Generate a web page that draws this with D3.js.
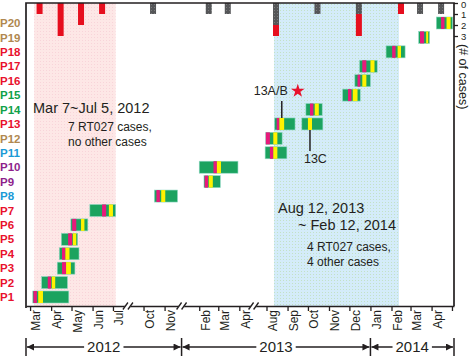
<!DOCTYPE html>
<html>
<head>
<meta charset="utf-8">
<script src="https://cdn.jsdelivr.net/npm/d3@7"></script>
<style>
  body { margin: 0; background: #fff; }
  svg { display: block; font-family: "Liberation Sans", Arial, Helvetica, sans-serif; }
</style>
</head>
<body>
<div id="chart"></div>
<script>
// Patients, bottom to top, and the strain group that colours each label
const patients = d3.range(1, 21).map(i => "P" + i);
const patientGroup = ["027", "027", "027", "027", "027", "027", "027", "B", "C", "C",
                      "B", "D", "027", "E", "E", "027", "027", "027", "D", "D"];

// Broken time axis: the stretches of time that are shown
const axisSegments = [
    ["2012-02-24", "2012-07-23"],
    ["2012-09-08", "2012-11-26"],
    ["2013-01-06", "2013-04-22"],
    ["2013-07-13", "2014-05-04"]
];
const tickMonths = ["2012-03-01", "2012-04-01", "2012-05-01", "2012-06-01", "2012-07-01",
                    "2012-10-01", "2012-11-01",
                    "2013-02-01", "2013-03-01", "2013-04-01",
                    "2013-08-01", "2013-09-01", "2013-10-01", "2013-11-01", "2013-12-01",
                    "2014-01-01", "2014-02-01", "2014-03-01", "2014-04-01", "2014-05-01"];
const unlabelledTicks = ["2014-05-01"];
const years = ["2012", "2013", "2014"];
const yearStarts = ["2013-01-01", "2014-01-01"];

// Shaded outbreak periods
const periodStart = ["2012-03-07", "2013-08-12"];
const periodEnd = ["2012-07-05", "2014-02-12"];

// Monthly case counts (hanging from the top)
const caseMonths = ["2012-03-01", "2012-04-01", "2012-05-01", "2012-06-01", "2012-10-01",
                    "2013-02-01", "2013-03-01", "2013-08-01", "2013-10-01", "2013-12-01",
                    "2014-02-01", "2014-03-01", "2014-04-01"];
const otherCases = [0, 0, 0, 0, 1, 1, 1, 2, 1, 1, 0, 1, 1];
const rt027Cases = [1, 3, 2, 1, 0, 0, 0, 1, 0, 2, 1, 0, 0];

// Stays: patient, from, to, magenta from, magenta to, yellow from, yellow to
const stays = [
    ["P1",  "2012-03-05", "2012-04-27", "2012-03-06", "2012-03-11", "2012-03-13", "2012-03-20"],
    ["P2",  "2012-03-18", "2012-04-25", "2012-03-27", "2012-04-01", "2012-04-02", "2012-04-07"],
    ["P3",  "2012-04-10", "2012-05-06", "2012-04-17", "2012-04-23", "2012-04-23", "2012-04-30"],
    ["P4",  "2012-04-13", "2012-05-12", "2012-04-17", "2012-04-22", "2012-04-22", "2012-04-28"],
    ["P5",  "2012-04-16", "2012-05-10", "2012-04-26", "2012-05-02", "2012-05-03", "2012-05-08"],
    ["P6",  "2012-04-30", "2012-05-25", "2012-05-02", "2012-05-08", "2012-05-15", "2012-05-20"],
    ["P7",  "2012-05-28", "2012-07-05", "2012-06-15", "2012-06-21", "2012-06-25", "2012-07-01"],
    ["P8",  "2012-10-17", "2012-11-20", "2012-10-20", "2012-10-25", "2012-10-27", "2012-11-02"],
    ["P9",  "2013-02-08", "2013-03-04", "2013-02-09", "2013-02-14", "2013-02-15", "2013-02-21"],
    ["P10", "2013-02-01", "2013-03-30", "2013-02-22", "2013-02-27", "2013-02-27", "2013-03-05"],
    ["P11", "2013-07-30", "2013-08-31", "2013-08-06", "2013-08-11", "2013-08-11", "2013-08-17"],
    ["P12", "2013-07-31", "2013-08-24", "2013-07-31", "2013-08-06", "2013-08-11", "2013-08-17"],
    ["P13", "2013-08-13", "2013-09-12", "2013-08-16", "2013-08-20", "2013-08-20", "2013-08-27"],
    ["P13", "2013-09-22", "2013-10-23", null, null, "2013-10-01", "2013-10-07"],
    ["P14", "2013-09-28", "2013-10-22", "2013-10-04", "2013-10-09", "2013-10-11", "2013-10-17"],
    ["P15", "2013-11-21", "2013-12-17", "2013-11-29", "2013-12-04", "2013-12-06", "2013-12-13"],
    ["P16", "2013-12-09", "2014-01-01", "2013-12-13", "2013-12-17", "2013-12-20", "2013-12-26"],
    ["P17", "2013-12-16", "2014-01-11", "2013-12-20", "2013-12-26", "2014-01-01", "2014-01-07"],
    ["P18", "2014-01-24", "2014-02-21", "2014-02-02", "2014-02-07", "2014-02-10", "2014-02-15"],
    ["P19", "2014-03-13", "2014-03-29", "2014-03-15", "2014-03-21", "2014-03-24", "2014-03-27"],
    ["P20", "2014-04-08", "2014-05-02", "2014-04-15", "2014-04-20", "2014-04-23", "2014-04-29"]
];
// Isolate labels: index into stays
const isolateLabels = [[12, "13A/B"], [13, "13C"]];

const groupColor = { "027": "#e8112d", B: "#1b9ad6", C: "#8e1f8c", D: "#b08850", E: "#10a14a" };
const ink = "#231f20";
const colGreen = "#1ba35f", colMagenta = "#e8197b", colYellow = "#fff200";

const parse = d3.timeParse("%Y-%m-%d");
const frame = { left: 26, right: 454, top: 3, bottom: 306 };

const svg = d3.select("#chart").append("svg")
    .attr("width", 470)
    .attr("height", 356);

// Textures
const defs = svg.append("defs");
function dots(id, bg, dot, step) {
    const p = defs.append("pattern").attr("id", id)
        .attr("patternUnits", "userSpaceOnUse")
        .attr("width", step).attr("height", step);
    p.append("rect").attr("width", step).attr("height", step).attr("fill", bg);
    p.append("rect").attr("x", 1).attr("y", 1).attr("width", 1).attr("height", 1).attr("fill", dot);
}
dots("pinkDots", "#fde7e6", "#f8d4d9", 3);
dots("blueDots", "#d4ecf9", "#c3e1c6", 3);
dots("greyDots", "#555658", "#7a7b7d", 3);
defs.append("marker").attr("id", "arrow")
    .attr("viewBox", "0 0 10 10").attr("refX", 10).attr("refY", 5)
    .attr("markerUnits", "userSpaceOnUse")
    .attr("markerWidth", 8).attr("markerHeight", 7)
    .attr("orient", "auto-start-reverse")
    .append("path").attr("d", "M0,0L10,5L0,10z").attr("fill", ink);

// Piecewise time scale built from the shown stretches
const segDays = axisSegments.map(s => d3.timeDay.count(parse(s[0]), parse(s[1])));
const pxPerDay = (frame.right - frame.left) / d3.sum(segDays);
const dom = [], rng = [];
let acc = frame.left;
axisSegments.forEach((s, i) => {
    dom.push(parse(s[0]), parse(s[1]));
    rng.push(acc, acc + segDays[i] * pxPerDay);
    acc += segDays[i] * pxPerDay;
});
const x = d3.scaleTime().domain(dom).range(rng);

const y = d3.scalePoint().domain(patients).range([297, 23]);
const yCases = d3.scaleLinear().domain([0, 3]).range([frame.top, frame.top + 33]);

// Shaded periods
svg.selectAll("rect.period")
    .data(periodStart.map((s, i) => [parse(s), parse(periodEnd[i])]))
    .enter().append("rect")
    .attr("class", "period")
    .attr("x", d => x(d[0]))
    .attr("y", frame.top)
    .attr("width", d => x(d[1]) - x(d[0]))
    .attr("height", frame.bottom - frame.top)
    .attr("fill", (d, i) => i === 0 ? "url(#pinkDots)" : "url(#blueDots)");

// Case bars hanging from the top
const caseData = caseMonths.map((m, i) => ({ mid: d3.timeDay.offset(parse(m), 14), other: otherCases[i], rt: rt027Cases[i] }));
svg.selectAll("rect.other")
    .data(caseData.filter(d => d.other > 0))
    .enter().append("rect")
    .attr("x", d => x(d.mid) - 3)
    .attr("y", yCases(0))
    .attr("width", 6)
    .attr("height", d => yCases(d.other) - yCases(0))
    .attr("fill", "url(#greyDots)");
svg.selectAll("rect.rt")
    .data(caseData.filter(d => d.rt > 0))
    .enter().append("rect")
    .attr("x", d => x(d.mid) - 3)
    .attr("y", d => yCases(d.other))
    .attr("width", 6)
    .attr("height", d => yCases(d.other + d.rt) - yCases(d.other))
    .attr("fill", "#e60e1e");

// Patient stays
const stayG = svg.append("g");
stays.forEach(s => {
    const top = y(s[0]) - 6;
    stayG.append("rect")
        .attr("x", x(parse(s[1]))).attr("y", top)
        .attr("width", x(parse(s[2])) - x(parse(s[1]))).attr("height", 12)
        .attr("fill", colGreen).attr("stroke", "#8fd8c4").attr("stroke-width", 0.6);
    if (s[3]) {
        stayG.append("rect")
            .attr("x", x(parse(s[3]))).attr("y", top)
            .attr("width", x(parse(s[4])) - x(parse(s[3]))).attr("height", 12)
            .attr("fill", colMagenta);
    }
    stayG.append("rect")
        .attr("x", x(parse(s[5]))).attr("y", top)
        .attr("width", x(parse(s[6])) - x(parse(s[5]))).attr("height", 12)
        .attr("fill", colYellow);
});

// Isolate pointers
isolateLabels.forEach(([idx, label]) => {
    const s = stays[idx];
    const px = (x(parse(s[5])) + x(parse(s[6]))) / 2;
    const cy = y(s[0]);
    if (label === "13A/B") {
        svg.append("line").attr("x1", px).attr("x2", px).attr("y1", cy - 23).attr("y2", cy - 6)
            .attr("stroke", ink).attr("stroke-width", 1.5);
        svg.append("text").attr("x", px + 6).attr("y", cy - 29)
            .attr("text-anchor", "end").attr("font-size", 12.5).attr("fill", ink).text(label);
        svg.append("path")
            .attr("d", d3.symbol(d3.symbolStar).size(58)())
            .attr("transform", `translate(${px + 16},${cy - 33})`)
            .attr("fill", "#e8112d");
    } else {
        svg.append("line").attr("x1", px).attr("x2", px).attr("y1", cy + 6).attr("y2", cy + 27)
            .attr("stroke", ink).attr("stroke-width", 1.5);
        svg.append("text").attr("x", px - 6).attr("y", cy + 39)
            .attr("font-size", 12.5).attr("fill", ink).text(label);
    }
});

// Frame
svg.append("path")
    .attr("d", `M${frame.left},${frame.bottom + 2}V${frame.top}H${frame.right}V${frame.bottom}`)
    .attr("fill", "none").attr("stroke", ink).attr("stroke-width", 1.7);

// Bottom axis
const xAxis = svg.append("g")
    .attr("transform", `translate(0,${frame.bottom})`)
    .call(d3.axisBottom(x).tickValues(tickMonths.map(parse)).tickSizeInner(5).tickSizeOuter(0).tickFormat(""));
xAxis.select(".domain").attr("stroke", ink).attr("stroke-width", 1.7);
xAxis.selectAll(".tick line").attr("stroke", ink).attr("stroke-width", 1.3);

svg.selectAll("text.month")
    .data(tickMonths.filter(m => !unlabelledTicks.includes(m)).map(parse))
    .enter().append("text")
    .attr("class", "month")
    .attr("transform", d => `translate(${x(d3.timeDay.offset(d, 9))},310) rotate(-90)`)
    .attr("text-anchor", "end")
    .attr("dy", "0.35em")
    .attr("font-size", 12)
    .attr("fill", ink)
    .text(d3.timeFormat("%b"));

// Axis breaks
axisSegments.slice(0, -1).forEach(s => {
    const bx = x(parse(s[1]));
    const by = frame.bottom;
    svg.append("path")
        .attr("d", `M${bx - 5},${by + 3.5}L${bx - 1},${by - 3.5}L${bx + 5},${by - 3.5}L${bx + 1},${by + 3.5}Z`)
        .attr("fill", "#fff");
    [-2.5, 2.5].forEach(o => {
        svg.append("line")
            .attr("x1", bx + o - 2.5).attr("y1", by + 3.5)
            .attr("x2", bx + o + 2.5).attr("y2", by - 3.5)
            .attr("stroke", ink).attr("stroke-width", 1.3);
    });
});

// Right axis: number of cases
const rAxis = svg.append("g")
    .attr("transform", `translate(${frame.right},0)`)
    .call(d3.axisRight(yCases).tickValues([0, 1, 2, 3]).tickSize(4).tickPadding(3).tickFormat(d3.format("d")));
rAxis.select(".domain").remove();
rAxis.selectAll(".tick line").attr("stroke", ink).attr("stroke-width", 1.3);
rAxis.selectAll(".tick text").attr("font-size", 9.5).attr("fill", ink)
    .attr("font-family", "\"Liberation Sans\", Arial, sans-serif")
    .attr("y", d => d === 0 ? 1 : 0.5);
svg.append("text")
    .attr("transform", `translate(459,44) rotate(90)`)
    .attr("font-size", 12.5).attr("fill", ink)
    .text("(# of cases)");

// Patient labels
svg.selectAll("text.patient")
    .data(patients)
    .enter().append("text")
    .attr("x", 0)
    .attr("y", d => y(d))
    .attr("dy", "0.36em")
    .attr("font-size", 11.5)
    .attr("font-weight", "bold")
    .attr("fill", (d, i) => groupColor[patientGroup[i]])
    .text(d => d);

// Year brackets
const bounds = [x.range()[0]].concat(yearStarts.map(d => x(parse(d))), [x.range()[x.range().length - 1]]);
const yearY = 347;
bounds.forEach(b => {
    svg.append("line").attr("x1", b).attr("x2", b).attr("y1", 338).attr("y2", 356)
        .attr("stroke", ink).attr("stroke-width", 1.5);
});
years.forEach((yr, i) => {
    const a = bounds[i], b = bounds[i + 1];
    svg.append("line")
        .attr("x1", a + 1).attr("x2", b - 1).attr("y1", yearY).attr("y2", yearY)
        .attr("stroke", ink).attr("stroke-width", 1.5)
        .attr("marker-start", "url(#arrow)").attr("marker-end", "url(#arrow)");
    const t = svg.append("text")
        .attr("x", (a + b) / 2).attr("y", yearY).attr("dy", "0.35em")
        .attr("text-anchor", "middle").attr("font-size", 15).attr("fill", ink)
        .text(yr);
    const bb = t.node().getBBox();
    svg.insert("rect", () => t.node())
        .attr("x", bb.x - 3).attr("y", bb.y).attr("width", bb.width + 6).attr("height", bb.height)
        .attr("fill", "#fff");
});

// Period annotations
const notes = [
    { x: 33, y: 113, size: 14.5, text: "Mar 7~Jul 5, 2012" },
    { x: 68, y: 131, size: 12, text: "7 RT027 cases," },
    { x: 68, y: 146, size: 12, text: "no other cases" },
    { x: 278, y: 213, size: 14.5, text: "Aug 12, 2013" },
    { x: 298, y: 230, size: 14.5, text: "~ Feb 12, 2014" },
    { x: 307, y: 251, size: 12, text: "4 RT027 cases," },
    { x: 307, y: 266, size: 12, text: "4 other cases" }
];
svg.selectAll("text.note")
    .data(notes)
    .enter().append("text")
    .attr("x", d => d.x).attr("y", d => d.y)
    .attr("font-size", d => d.size)
    .attr("fill", ink)
    .text(d => d.text);
</script>
</body>
</html>
